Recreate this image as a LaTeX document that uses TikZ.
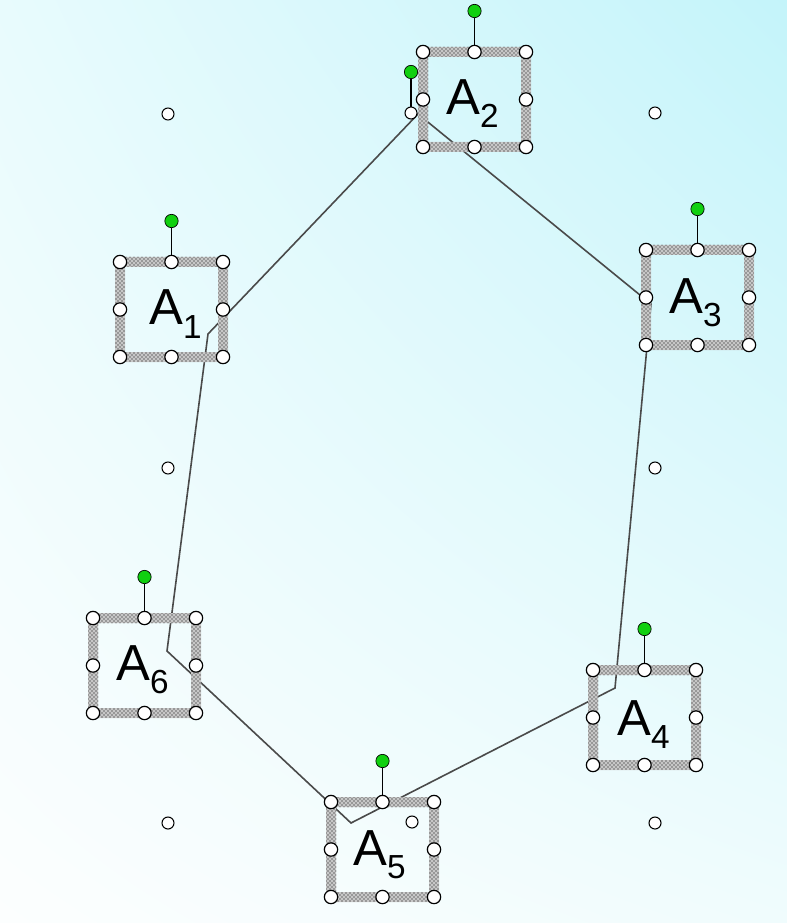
\documentclass[tikz,border=0pt]{standalone}
\usepackage{fontspec}
\setmainfont{Liberation Sans}
\usetikzlibrary{patterns,shadings}
\definecolor{bgUR}{HTML}{C4F4FA}
\definecolor{bgUL}{HTML}{E8FBFD}
\definecolor{bgLL}{HTML}{FCFEFE}
\definecolor{bgLR}{HTML}{F0FCFD}
\definecolor{handlegreen}{HTML}{10D010}
\definecolor{polyline}{HTML}{4A4A4A}
\tikzset{
  handle/.style={circle, draw=black, line width=0.9pt, fill=white, inner sep=0pt, minimum size=10pt},
  smallhandle/.style={circle, draw=black, line width=0.8pt, fill=white, inner sep=0pt, minimum size=9pt},
  rothandle/.style={circle, draw=black, line width=0.5pt, fill=handlegreen, inner sep=0pt, minimum size=10pt},
  bandbase/.style={fill=black!22, even odd rule},
  band/.style={pattern=crosshatch dots, pattern color=black, even odd rule},
  stem/.style={draw=black, line width=1.1pt},
  poly/.style={draw=polyline, line width=1.2pt, line join=miter},
  lab/.style={anchor=base west, inner sep=0pt, font=\fontsize{38}{40}\selectfont},
}
\newcommand\subdig[1]{\raisebox{-9.75pt}{\fontsize{25}{26}\selectfont #1}}
% selection box: #1 name, #2 left x, #3 top y (box 103 x 95 px)
\newcommand\selbox[3]{%
  \fill[bandbase] ({#2-5},{#3-5}) rectangle ({#2+108},{#3+100})
              ({#2+5},{#3+5}) rectangle ({#2+98},{#3+90});
  \fill[band] ({#2-5},{#3-5}) rectangle ({#2+108},{#3+100})
              ({#2+5},{#3+5}) rectangle ({#2+98},{#3+90});
  \node[rothandle] (#1g) at ({#2+51.5},{#3-41}) {};
  \draw[stem] (#1g) -- ({#2+51.5},{#3});
  \node[handle] (#1nw) at ({#2},{#3}) {};
  \node[handle] (#1n) at ({#2+51.5},{#3}) {};
  \node[handle] (#1ne) at ({#2+103},{#3}) {};
  \node[handle] (#1w) at ({#2},{#3+47.5}) {};
  \node[handle] (#1e) at ({#2+103},{#3+47.5}) {};
  \node[handle] (#1sw) at ({#2},{#3+95}) {};
  \node[handle] (#1s) at ({#2+51.5},{#3+95}) {};
  \node[handle] (#1se) at ({#2+103},{#3+95}) {};
}
\begin{document}
\begin{tikzpicture}[x=0.75pt,y=-0.75pt]
\useasboundingbox (0,0) rectangle (787,923);
\shade[upper left=bgUL, upper right=bgUR, lower left=bgLL, lower right=bgLR] (0,0) rectangle (787,923);
% polygon
\coordinate (p1) at (418,114);
\coordinate (p2) at (651,304);
\coordinate (p3) at (615,688);
\coordinate (p4) at (351,823);
\coordinate (p5) at (167,651);
\coordinate (p6) at (208,334);
\draw[poly] (p1) -- (p2) -- (p3) -- (p4) -- (p5) -- (p6) -- cycle;
% selection boxes
\selbox{a}{120}{262}
\selbox{b}{423}{52}
\selbox{c}{646}{250}
\selbox{d}{593}{670}
\selbox{e}{331}{802}
\selbox{f}{93}{618}
% labels
\node[lab] (l1) at (149,325) {A\subdig{1}};
\node[lab] (l2) at (446,115) {A\subdig{2}};
\node[lab] (l3) at (669,313) {A\subdig{3}};
\node[lab] (l4) at (617,735) {A\subdig{4}};
\node[lab] (l5) at (353,865) {A\subdig{5}};
\node[lab] (l6) at (116,680) {A\subdig{6}};
% polygon selection handles
\node[rothandle] (pg) at (411,72) {};
\draw[stem] (pg) -- (411,113);
\node[smallhandle] (q1) at (168,114) {};
\node[smallhandle] (q2) at (411,113) {};
\node[smallhandle] (q3) at (655,113) {};
\node[smallhandle] (q4) at (168,468) {};
\node[smallhandle] (q5) at (655,468) {};
\node[smallhandle] (q6) at (168,823) {};
\node[smallhandle] (q7) at (412,822) {};
\node[smallhandle] (q8) at (655,823) {};
\end{tikzpicture}
\end{document}
